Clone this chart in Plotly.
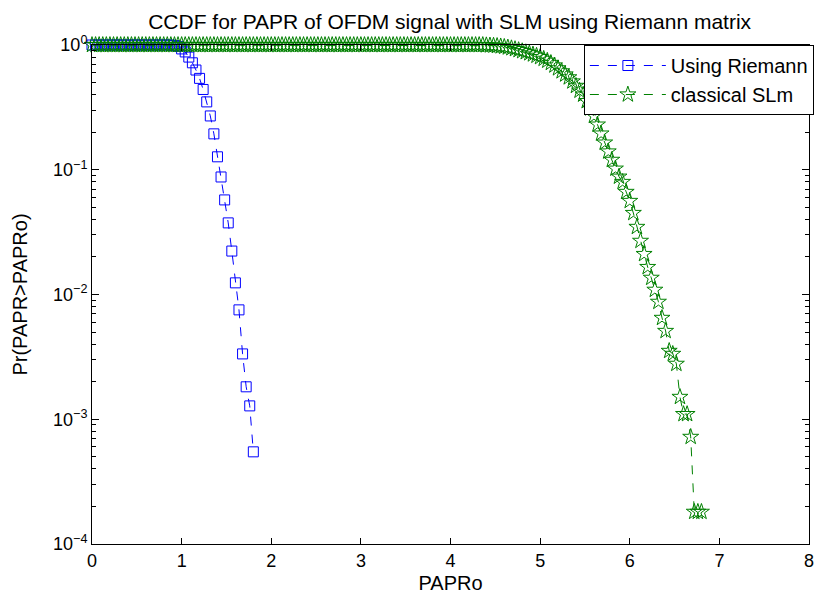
import plotly.graph_objects as go

# ---------------- data ----------------
papr_step = 0.04  # PAPRo threshold grid spacing (dB)

# CCDF using Riemann matrix (x = 0 ... 1.80)
riemann_ccdf = [1.0] * 23 + [
    0.99, 0.975, 0.93, 0.88, 0.80, 0.72, 0.63, 0.54, 0.44, 0.35, 0.27,
    0.194, 0.127, 0.0875, 0.0573, 0.0375, 0.0223, 0.0124, 0.00753,
    0.00334, 0.00182, 0.00128, 0.000548,
]

# CCDF classical SLM (x = 0 ... 6.80)
classical_ccdf = [1.0] * 110 + [
    0.995, 0.992, 0.988, 0.982, 0.975, 0.966, 0.955, 0.942, 0.927, 0.91,
    0.892, 0.875, 0.858, 0.84, 0.82, 0.80, 0.775, 0.748, 0.718, 0.685,
    0.65, 0.615, 0.58, 0.55, 0.51, 0.47, 0.43, 0.40, 0.355, 0.31,
    0.27, 0.23, 0.195, 0.165, 0.14, 0.12, 0.102, 0.088,
    0.0798, 0.0664, 0.0562, 0.045, 0.0348, 0.0269, 0.0211, 0.0166,
    0.0136, 0.0109, 0.00873, 0.00649, 0.0051, 0.00353, 0.00334, 0.00278,
    0.00151, 0.0011, 0.0011, 0.000722, 0.000181, 0.000181, 0.000181,
]

riemann_x = [round(i * papr_step, 2) for i in range(len(riemann_ccdf))]
classical_x = [round(i * papr_step, 2) for i in range(len(classical_ccdf))]

x_ticks = [0, 1, 2, 3, 4, 5, 6, 7, 8]
y_ticks = [1e-4, 1e-3, 1e-2, 1e-1, 1]
y_ticktext = ["10<sup>\u22124</sup>", "10<sup>\u22123</sup>", "10<sup>\u22122</sup>",
              "10<sup>\u22121</sup>", "10<sup>0</sup>"]
y_minor = [k * 10.0 ** e for e in (-4, -3, -2, -1) for k in range(2, 10)]

title_text = "CCDF for PAPR of OFDM signal with SLM using Riemann matrix"
x_label = "PAPRo"
y_label = "Pr(PAPR>PAPRo)"

FONT = "Liberation Sans, Arial, Helvetica, sans-serif"

fig = go.Figure()
fig.add_trace(go.Scatter(
    x=riemann_x, y=riemann_ccdf, mode="lines+markers", name="Using Riemann",
    line=dict(color="#0000ff", width=1, dash="dash"),
    marker=dict(symbol="square-open", size=10, color="#0000ff", line=dict(width=1, color="#0000ff")),
    cliponaxis=False,
))
fig.add_trace(go.Scatter(
    x=classical_x, y=classical_ccdf, mode="lines+markers", name="classical SLm",
    line=dict(color="#008000", width=1, dash="dash"),
    marker=dict(symbol="star-open", size=12, color="#008000", line=dict(width=1, color="#008000")),
    cliponaxis=False,
))

fig.update_layout(
    width=822, height=594,
    margin=dict(l=92, r=13, t=45, b=50, autoexpand=False),
    paper_bgcolor="white", plot_bgcolor="white",
    font=dict(family=FONT, size=18, color="black"),
    title=dict(text=title_text, x=0.547, xanchor="center", y=0.963, yanchor="middle",
               font=dict(size=21, family=FONT, color="black")),
    showlegend=True,
    legend=dict(x=0.686, y=1.0, xanchor="left", yanchor="top",
                bgcolor="white", bordercolor="black", borderwidth=1,
                font=dict(size=20, family=FONT, color="black"),
                itemwidth=76, tracegroupgap=0),
)
fig.update_xaxes(
    range=[0, 8], tickvals=x_ticks, ticktext=[str(v) for v in x_ticks],
    showline=True, linecolor="black", linewidth=1, mirror="ticks",
    ticks="inside", ticklen=6, tickcolor="black", showgrid=False, zeroline=False,
    title=dict(text=x_label, font=dict(size=20, family=FONT), standoff=6),
)
fig.update_yaxes(
    type="log", range=[-4, 0], tickvals=y_ticks, ticktext=y_ticktext,
    showline=True, linecolor="black", linewidth=1, mirror="ticks",
    ticks="inside", ticklen=7, tickcolor="black", showgrid=False, zeroline=False,
    minor=dict(tickvals=y_minor, ticks="inside", ticklen=4, tickcolor="black", showgrid=False),
    title=dict(text=y_label, font=dict(size=20, family=FONT), standoff=20),
)

fig.write_html("out.html")
